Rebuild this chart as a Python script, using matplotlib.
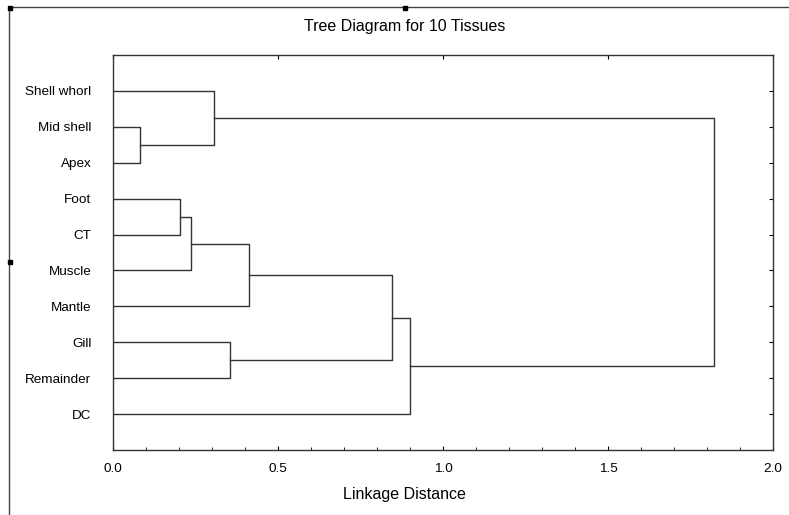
import matplotlib
matplotlib.use("Agg")
import matplotlib.pyplot as plt
from matplotlib.lines import Line2D
from matplotlib.ticker import MultipleLocator

plt.rcParams['font.family'] = ['Liberation Sans', 'DejaVu Sans']

# tissues in the order they appear, top to bottom
tejidos = ["Shell whorl", "Mid shell", "Apex", "Foot", "CT", "Muscle",
           "Mantle", "Gill", "Remainder", "DC"]

# joins: (cluster a, cluster b, linkage distance); new cluster ids start at 10
uniones_a = [1, 3, 11, 12, 7, 0, 13, 16, 15]
uniones_b = [2, 4, 5, 6, 8, 10, 14, 9, 17]
distancias = [0.081, 0.203, 0.235, 0.411, 0.354, 0.305, 0.845, 0.899, 1.821]

fig = plt.figure(figsize=(7.89, 5.15), dpi=100)
ax = fig.add_axes([113 / 789, 1 - 450 / 515, 660 / 789, 395 / 515])

color = "#333333"
pos = {i: i + 1 for i in range(len(tejidos))}
alt = {i: 0.0 for i in range(len(tejidos))}
nuevo = len(tejidos)
for a, b, d in zip(uniones_a, uniones_b, distancias):
    ya, yb = pos[a], pos[b]
    ax.plot([alt[a], d, d, alt[b]], [ya, ya, yb, yb], color=color, lw=1.0)
    pos[nuevo] = (ya + yb) / 2
    alt[nuevo] = d
    nuevo += 1

ax.set_xlim(0, 2.0)
ax.set_ylim(11, 0)
ax.set_yticks(range(1, len(tejidos) + 1))
ax.set_yticklabels(tejidos, fontsize=9.7)
ax.tick_params(axis='y', left=False, right=True, direction='in', length=3, pad=15.5)
ax.xaxis.set_major_locator(MultipleLocator(0.5))
ax.xaxis.set_minor_locator(MultipleLocator(0.1))
ax.set_xticks([0.0, 0.5, 1.0, 1.5, 2.0])
ax.set_xticklabels(["0.0", "0.5", "1.0", "1.5", "2.0"], fontsize=9.7)
ax.tick_params(axis='x', which='major', direction='in', top=True, length=3, pad=9)
ax.tick_params(axis='x', which='minor', direction='in', top=False, length=2)
for s in ax.spines.values():
    s.set_linewidth(1.0)
    s.set_color(color)

fig.text(405 / 789, 1 - 27 / 515, "Tree Diagram for 10 Tissues", ha='center', va='center', fontsize=11.5)
fig.text(404 / 789, 1 - 494 / 515, "Linkage Distance", ha='center', va='center', fontsize=11.5)

# outer frame
fig.add_artist(Line2D([9 / 789, 9 / 789], [0, 1 - 7 / 515], color="#444444", lw=1.0))
fig.add_artist(Line2D([9 / 789, 1], [1 - 7 / 515, 1 - 7 / 515], color="#444444", lw=1.0))
for px, py in [(10, 8), (405, 8), (10, 262)]:
    fig.add_artist(Line2D([px / 789], [1 - py / 515], marker='s', markersize=2.5, color='black'))

plt.savefig("out.png", dpi=100)
